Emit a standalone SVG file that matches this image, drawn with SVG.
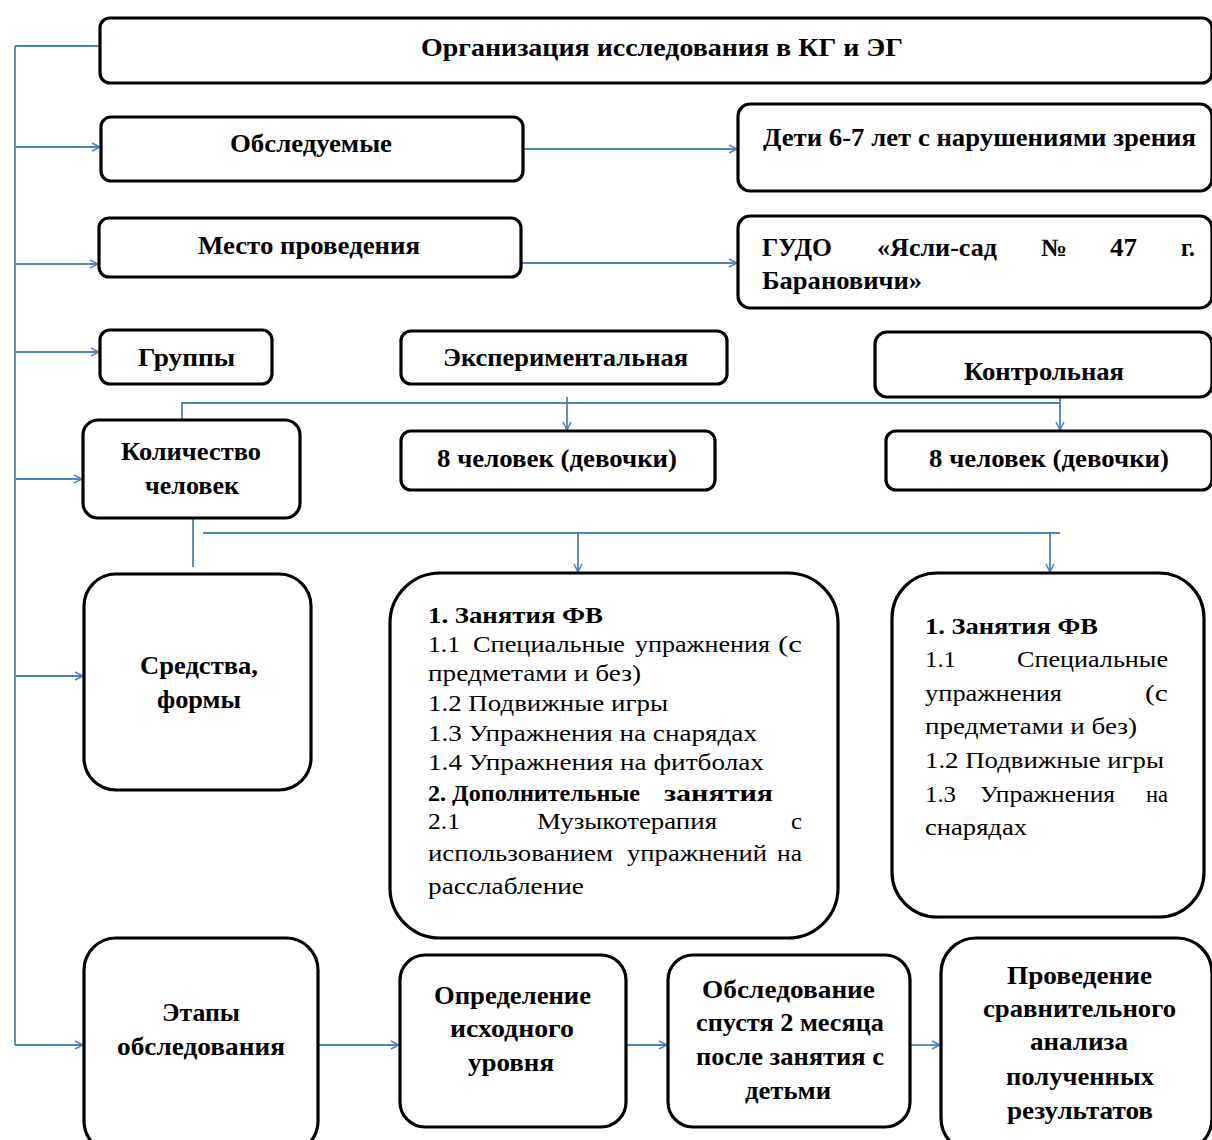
<svg xmlns="http://www.w3.org/2000/svg" width="1212" height="1140" viewBox="0 0 1212 1140">
<defs>
<marker id="ah" viewBox="0 0 10 10" refX="9" refY="5" markerWidth="10" markerHeight="10" markerUnits="userSpaceOnUse" orient="auto">
<path d="M1,1 L9,5 L1,9" fill="none" stroke="#4f81bd" stroke-width="1.5"/>
</marker>
<style>
.b{fill:#fff;stroke:#000;stroke-width:3.2}
.c{fill:none;stroke:#4f81bd;stroke-width:1.8}
.a{marker-end:url(#ah)}
.h{font-family:"Liberation Serif","Times New Roman",serif;font-weight:bold;font-size:25px;fill:#000}
.t{font-family:"Liberation Serif","Times New Roman",serif;font-size:22.5px;fill:#000}
.tb{font-weight:bold}
</style>
</defs>
<rect width="1212" height="1140" fill="#fff"/>

<g id="connectors">
<path class="c" d="M15,46 V1045"/>
<path class="c" d="M15,46 H100"/>
<path class="c a" d="M15,147 H100"/>
<path class="c a" d="M15,264 H98"/>
<path class="c a" d="M15,352 H99"/>
<path class="c a" d="M15,479 H82"/>
<path class="c a" d="M15,676 H83"/>
<path class="c a" d="M15,1045 H83"/>
<path class="c a" d="M523,149 H737"/>
<path class="c a" d="M521,263 H737"/>
<path class="c" d="M182,420 V403 H1060"/>
<path class="c a" d="M567,397 V430"/>
<path class="c a" d="M1060,397 V430"/>
<path class="c" d="M193,518 V567"/>
<path class="c" d="M203,533 H1060"/>
<path class="c a" d="M578,533 V572"/>
<path class="c a" d="M1050,533 V572"/>
<path class="c a" d="M318,1045 H399"/>
<path class="c a" d="M626,1045 H667"/>
<path class="c a" d="M910,1045 H940"/>
</g>

<g id="n-org"><rect class="b" x="100" y="18" width="1112" height="65" rx="10"/>
<text class="h" x="421" y="56" textLength="482" lengthAdjust="spacingAndGlyphs">Организация исследования в КГ и ЭГ</text></g>

<g id="n-obsl"><rect class="b" x="101" y="117" width="422" height="64" rx="10"/>
<text class="h" x="230" y="152" textLength="162" lengthAdjust="spacingAndGlyphs">Обследуемые</text></g>

<g id="n-deti"><rect class="b" x="738" y="104" width="474" height="87" rx="12"/>
<text class="h" x="763" y="146" textLength="433" lengthAdjust="spacingAndGlyphs">Дети 6-7 лет с нарушениями зрения</text></g>

<g id="n-mesto"><rect class="b" x="99" y="218" width="422" height="59" rx="10"/>
<text class="h" x="198" y="254" textLength="222" lengthAdjust="spacingAndGlyphs">Место проведения</text></g>

<g id="n-gudo"><rect class="b" x="738" y="216" width="474" height="92" rx="12"/>
<text class="h" x="762" y="256" textLength="70" lengthAdjust="spacingAndGlyphs">ГУДО</text>
<text class="h" x="877" y="256" textLength="120" lengthAdjust="spacingAndGlyphs">«Ясли-сад</text>
<text class="h" x="1041" y="256" textLength="26" lengthAdjust="spacingAndGlyphs">№</text>
<text class="h" x="1110" y="256" textLength="27" lengthAdjust="spacingAndGlyphs">47</text>
<text class="h" x="1181" y="256" textLength="14" lengthAdjust="spacingAndGlyphs">г.</text>
<text class="h" x="762" y="289" textLength="160" lengthAdjust="spacingAndGlyphs">Барановичи»</text></g>

<g id="n-gruppy"><rect class="b" x="100" y="330" width="172" height="54" rx="10"/>
<text class="h" x="138" y="366" textLength="97" lengthAdjust="spacingAndGlyphs">Группы</text></g>

<g id="n-exp"><rect class="b" x="401" y="331" width="326" height="53" rx="10"/>
<text class="h" x="443" y="366" textLength="245" lengthAdjust="spacingAndGlyphs">Экспериментальная</text></g>

<g id="n-kontr"><rect class="b" x="875" y="332" width="337" height="65" rx="12"/>
<text class="h" x="964" y="380" textLength="160" lengthAdjust="spacingAndGlyphs">Контрольная</text></g>

<g id="n-kol"><rect class="b" x="83" y="420" width="217" height="98" rx="15"/>
<text class="h" x="121" y="460" textLength="140" lengthAdjust="spacingAndGlyphs">Количество</text>
<text class="h" x="145" y="494" textLength="94" lengthAdjust="spacingAndGlyphs">человек</text></g>

<g id="n-8exp"><rect class="b" x="401" y="431" width="314" height="59" rx="10"/>
<text class="h" x="437" y="467" textLength="240" lengthAdjust="spacingAndGlyphs">8 человек (девочки)</text></g>

<g id="n-8kontr"><rect class="b" x="886" y="431" width="326" height="59" rx="10"/>
<text class="h" x="929" y="467" textLength="240" lengthAdjust="spacingAndGlyphs">8 человек (девочки)</text></g>

<g id="n-sredstva"><rect class="b" x="84" y="574" width="227" height="216" rx="32"/>
<text class="h" x="140" y="674" textLength="118" lengthAdjust="spacingAndGlyphs">Средства,</text>
<text class="h" x="157" y="708" textLength="84" lengthAdjust="spacingAndGlyphs">формы</text></g>

<g id="n-exp-content"><rect class="b" x="390" y="573" width="448" height="365" rx="50"/>
<text class="t tb" x="428" y="623" textLength="175" lengthAdjust="spacingAndGlyphs">1. Занятия ФВ</text>
<text class="t" x="428" y="652" textLength="32" lengthAdjust="spacingAndGlyphs">1.1</text>
<text class="t" x="473" y="652" textLength="152" lengthAdjust="spacingAndGlyphs">Специальные</text>
<text class="t" x="635" y="652" textLength="135" lengthAdjust="spacingAndGlyphs">упражнения</text>
<text class="t" x="778" y="652" textLength="24" lengthAdjust="spacingAndGlyphs">(с</text>
<text class="t" x="428" y="681" textLength="213" lengthAdjust="spacingAndGlyphs">предметами и без)</text>
<text class="t" x="428" y="711" textLength="240" lengthAdjust="spacingAndGlyphs">1.2 Подвижные игры</text>
<text class="t" x="428" y="741" textLength="329" lengthAdjust="spacingAndGlyphs">1.3 Упражнения на снарядах</text>
<text class="t" x="428" y="770" textLength="336" lengthAdjust="spacingAndGlyphs">1.4 Упражнения на фитболах</text>
<text class="t tb" x="428" y="801" textLength="212" lengthAdjust="spacingAndGlyphs">2. Дополнительные</text>
<text class="t tb" x="664" y="801" textLength="109" lengthAdjust="spacingAndGlyphs">занятия</text>
<text class="t" x="428" y="829" textLength="32" lengthAdjust="spacingAndGlyphs">2.1</text>
<text class="t" x="537" y="829" textLength="180" lengthAdjust="spacingAndGlyphs">Музыкотерапия</text>
<text class="t" x="791" y="829" textLength="11" lengthAdjust="spacingAndGlyphs">с</text>
<text class="t" x="428" y="861" textLength="185" lengthAdjust="spacingAndGlyphs">использованием</text>
<text class="t" x="627" y="861" textLength="140" lengthAdjust="spacingAndGlyphs">упражнений</text>
<text class="t" x="777" y="861" textLength="25" lengthAdjust="spacingAndGlyphs">на</text>
<text class="t" x="428" y="894" textLength="156" lengthAdjust="spacingAndGlyphs">расслабление</text></g>

<g id="n-kontr-content"><rect class="b" x="892" y="573" width="312" height="344" rx="45"/>
<text class="t tb" x="925" y="634" textLength="173" lengthAdjust="spacingAndGlyphs">1. Занятия ФВ</text>
<text class="t" x="925" y="667" textLength="31" lengthAdjust="spacingAndGlyphs">1.1</text>
<text class="t" x="1017" y="667" textLength="151" lengthAdjust="spacingAndGlyphs">Специальные</text>
<text class="t" x="925" y="701" textLength="137" lengthAdjust="spacingAndGlyphs">упражнения</text>
<text class="t" x="1145" y="701" textLength="23" lengthAdjust="spacingAndGlyphs">(с</text>
<text class="t" x="925" y="734" textLength="212" lengthAdjust="spacingAndGlyphs">предметами и без)</text>
<text class="t" x="925" y="768" textLength="239" lengthAdjust="spacingAndGlyphs">1.2 Подвижные игры</text>
<text class="t" x="925" y="802" textLength="31" lengthAdjust="spacingAndGlyphs">1.3</text>
<text class="t" x="980" y="802" textLength="135" lengthAdjust="spacingAndGlyphs">Упражнения</text>
<text class="t" x="1146" y="802" textLength="22" lengthAdjust="spacingAndGlyphs">на</text>
<text class="t" x="925" y="835" textLength="102" lengthAdjust="spacingAndGlyphs">снарядах</text></g>

<g id="n-etapy"><rect class="b" x="84" y="938" width="234" height="215" rx="32"/>
<text class="h" x="162" y="1021" textLength="78" lengthAdjust="spacingAndGlyphs">Этапы</text>
<text class="h" x="117" y="1055" textLength="168" lengthAdjust="spacingAndGlyphs">обследования</text></g>

<g id="n-opred"><rect class="b" x="400" y="955" width="226" height="172" rx="25"/>
<text class="h" x="434" y="1004" textLength="157" lengthAdjust="spacingAndGlyphs">Определение</text>
<text class="h" x="450" y="1037" textLength="124" lengthAdjust="spacingAndGlyphs">исходного</text>
<text class="h" x="468" y="1071" textLength="86" lengthAdjust="spacingAndGlyphs">уровня</text></g>

<g id="n-obsl2"><rect class="b" x="668" y="955" width="242" height="172" rx="25"/>
<text class="h" x="702" y="998" textLength="173" lengthAdjust="spacingAndGlyphs">Обследование</text>
<text class="h" x="696" y="1031" textLength="188" lengthAdjust="spacingAndGlyphs">спустя 2 месяца</text>
<text class="h" x="696" y="1065" textLength="188" lengthAdjust="spacingAndGlyphs">после занятия с</text>
<text class="h" x="745" y="1099" textLength="86" lengthAdjust="spacingAndGlyphs">детьми</text></g>

<g id="n-proved"><rect class="b" x="941" y="938" width="271" height="215" rx="35"/>
<text class="h" x="1007" y="984" textLength="145" lengthAdjust="spacingAndGlyphs">Проведение</text>
<text class="h" x="983" y="1017" textLength="193" lengthAdjust="spacingAndGlyphs">сравнительного</text>
<text class="h" x="1030" y="1050" textLength="98" lengthAdjust="spacingAndGlyphs">анализа</text>
<text class="h" x="1006" y="1085" textLength="148" lengthAdjust="spacingAndGlyphs">полученных</text>
<text class="h" x="1007" y="1119" textLength="146" lengthAdjust="spacingAndGlyphs">результатов</text></g>
</svg>
